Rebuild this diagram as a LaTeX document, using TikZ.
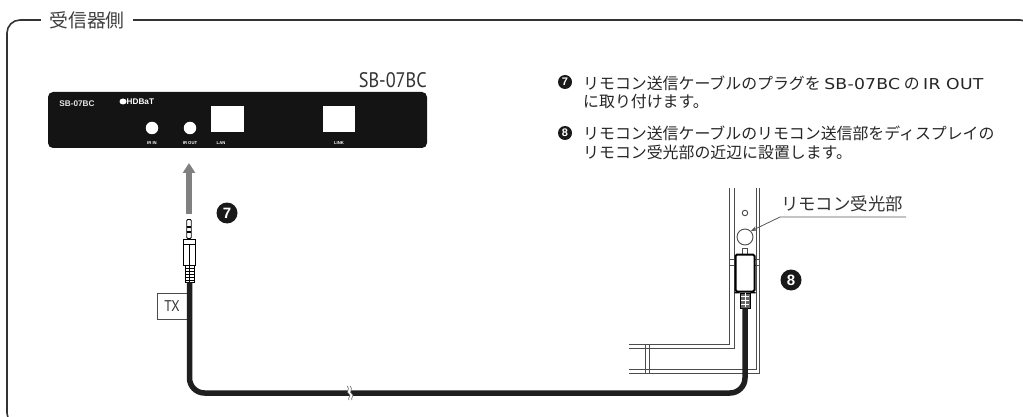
\documentclass[tikz,border=0pt]{standalone}
\usepackage{fontspec}
\setmainfont{Liberation Sans}
\newfontfamily\jp{Noto Sans CJK JP}
\newfontfamily\nar[FakeStretch=0.87]{PT Sans}
\newfontfamily\wide[FakeStretch=1.15,LetterSpace=1.5]{DejaVu Sans}
\newcommand{\lat}[1]{{\wide\fontsize{15}{16}\selectfont #1}}
\usetikzlibrary{arrows.meta,shapes.geometric}
\tikzset{
  hole/.style={circle,fill=white,inner sep=0pt,minimum size=12.5pt},
  port/.style={fill=white,inner sep=0pt},
  tiny/.style={text=white,font=\fontsize{4.2}{5}\selectfont\bfseries,inner sep=0pt},
  numdot/.style={circle,fill=black!90,text=white,inner sep=0pt,font=\fontsize{#1}{#1}\selectfont\bfseries},
  body/.style={anchor=west,inner sep=0pt,text=black!85,font=\fontsize{15.9}{16}\selectfont\jp},
  wire/.style={draw=black!88,line width=5.5pt},
  edge/.style={draw=black!70,line width=0.9pt},
}
\begin{document}
\begin{tikzpicture}[x=1pt,y=-1pt]
\useasboundingbox (0,0) rectangle (1023,417);
\fill[white] (0,0) rectangle (1023,417);
% frame
\begin{scope}
\clip (0,0) rectangle (1023,417);
\draw[draw=black!80,line width=1.6pt,rounded corners=13pt] (7,20) rectangle (1033,426);
\end{scope}
\node[fill=white,inner xsep=8pt,inner ysep=3pt,text=black!75,font=\fontsize{18.8}{19}\selectfont\jp] (title) at (87,20) {受信器側};
% device
\node[fill=black!92,rounded corners=5pt,inner sep=0pt,minimum width=379pt,minimum height=56pt] (dev) at (237.5,120) {};
\node[anchor=east,inner sep=0pt,text=black!80,font=\fontsize{21}{22}\selectfont\nar] (model) at (427,80) {SB-07BC};
\node[text=black!10,inner sep=0pt,font=\fontsize{8.2}{9}\selectfont\bfseries] (devname) at (77,103.5) {SB-07BC};
\node[fill=white,ellipse,inner sep=0pt,minimum width=7pt,minimum height=6pt] (logodot) at (123,101.5) {};
\node[anchor=west,text=white,inner sep=0pt,font=\fontsize{8.2}{9}\selectfont\bfseries] (logo) at (126.5,101.5) {HDBaT};
\node[hole] (irin) at (152,128) {};
\node[hole] (irout) at (190,128) {};
\node[port,minimum width=33pt,minimum height=26pt] (lan) at (227.5,119) {};
\node[port,minimum width=32pt,minimum height=26pt] (link) at (339,119) {};
\node[tiny] (lirin) at (152,143) {IR IN};
\node[tiny] (lirout) at (190,143) {IR OUT};
\node[tiny] (llan) at (221,143) {LAN};
\node[tiny] (llink) at (339,143) {LINK};
% instructions
\node[numdot=11,minimum size=14pt] (n7a) at (565,82) {7};
\node[body] (t1) at (583,83) {リモコン送信ケーブルのプラグを \lat{SB-07BC} の \lat{IR OUT}};
\node[body] (t2) at (583,102) {に取り付けます。};
\node[numdot=11,minimum size=14pt] (n8a) at (565,133) {8};
\node[body] (t3) at (583,133) {リモコン送信ケーブルのリモコン送信部をディスプレイの};
\node[body] (t4) at (583,152) {リモコン受光部の近辺に設置します。};
% markers
\node[numdot=15,minimum size=21pt] (n7) at (227,213) {7};
\node[numdot=15,minimum size=21pt] (n8) at (791,280) {8};
% insert arrow
\coordinate (arrS) at (189,214);
\coordinate (arrE) at (189,163);
\draw[draw=black!50,line width=6pt,-{Triangle[length=10pt,width=12pt]}] (arrS) -- (arrE);
% display
\draw[edge] (729,188) -- (729,344) -- (629,344);
\draw[edge] (734,188) -- (734,348) -- (629,348);
\draw[edge] (756,188) -- (756,369) -- (629,369);
\draw[edge] (759,188) -- (759,373) -- (629,373);
\draw[edge] (645,344) -- (645,373);
\draw[edge] (649,344) -- (649,373);
\draw[edge] (729,259) rectangle (735,265);
\draw[edge] (754,259) rectangle (759,265);
\node[circle,edge,fill=white,inner sep=0pt,minimum size=5.5pt] (smallhole) at (745,213) {};
\node[circle,edge,fill=white,inner sep=0pt,minimum size=16pt] (sensor) at (745,237) {};
% label and leader
\node[inner sep=0pt,text=black!80,font=\fontsize{17.4}{18}\selectfont\jp] (rx) at (842,204) {リモコン受光部};
\coordinate (ulE) at (906,217);
\coordinate (ulS) at (780,217);
\draw[draw=black!65,line width=0.8pt,-{Stealth[length=6pt,width=4.5pt]}] (ulE) -- (ulS) -- (sensor.north east);
% TX
\node[draw=black!70,line width=0.8pt,fill=white,minimum width=30pt,minimum height=26pt,inner sep=0pt,text=black!80,font=\fontsize{15.5}{16}\selectfont\nar] (tx) at (172,306) {TX};
% plug jack
\node[draw=black,line width=0.9pt,fill=white,rounded corners=1pt,minimum width=4.5pt,minimum height=19pt,inner sep=0pt] (tip) at (189,229) {};
\draw[black,line width=1.6pt] (186.7,232) -- (191.3,232);
\draw[black,line width=1.6pt] (186.7,227) -- (191.3,227);
\node[draw=black,line width=0.9pt,fill=white,minimum width=12pt,minimum height=26pt,inner sep=0pt] (collar) at (189.5,252) {};
\draw[black,line width=0.8pt] (183.5,244) -- (195.5,244);
\draw[black,line width=0.8pt] (189.5,244) -- (189.5,265);
\node[draw=black,line width=0.9pt,fill=white,minimum width=9pt,minimum height=17pt,inner sep=0pt] (boot) at (189.5,273.5) {};
\foreach \yy in {268,271,274,277,280} \draw[black,line width=1pt] (185,\yy) -- (194,\yy);
\draw[black,line width=1.2pt] (189.5,265) -- (189.5,282);
% emitter
\node[edge,fill=white,inner sep=0pt,minimum width=4.5pt,minimum height=6pt] (nub) at (745,251) {};
\node[draw=black,line width=2pt,fill=white,rounded corners=1.5pt,minimum width=19pt,minimum height=37pt,inner sep=0pt] (emit) at (745,273) {};
\node[draw=black,line width=0.9pt,fill=black!60,minimum width=10pt,minimum height=15pt,inner sep=0pt] (eboot) at (745,300.5) {};
\draw[black,line width=1.5pt] (emit.south west) -- (eboot.north west);
\draw[black,line width=1.5pt] (emit.south east) -- (eboot.north east);
\foreach \yy in {296,300,304} \draw[white,line width=0.6pt] (741,\yy) -- (749,\yy);
\draw[white,line width=0.6pt] (745,293) -- (745,307);
% cable
\coordinate (brk) at (349,393);
\draw[wire,rounded corners=15pt] (boot.south) -- (boot.south |- brk) -- (eboot.south |- brk) -- (eboot.south);
% break
\fill[white] (347,386) .. controls (351,389) and (345,392) .. (349,394) .. controls (352,396) and (347,398) .. (349,400) -- (352,400) .. controls (350,398) and (355,396) .. (352,394) .. controls (348,392) and (354,389) .. (350,386) -- cycle;
\draw[black!60,line width=0.6pt] (347,386) .. controls (351,389) and (345,392) .. (349,394) .. controls (352,396) and (347,398) .. (349,400);
\draw[black!60,line width=0.6pt] (350,386) .. controls (354,389) and (348,392) .. (352,394) .. controls (355,396) and (350,398) .. (352,400);
\end{tikzpicture}
\end{document}
